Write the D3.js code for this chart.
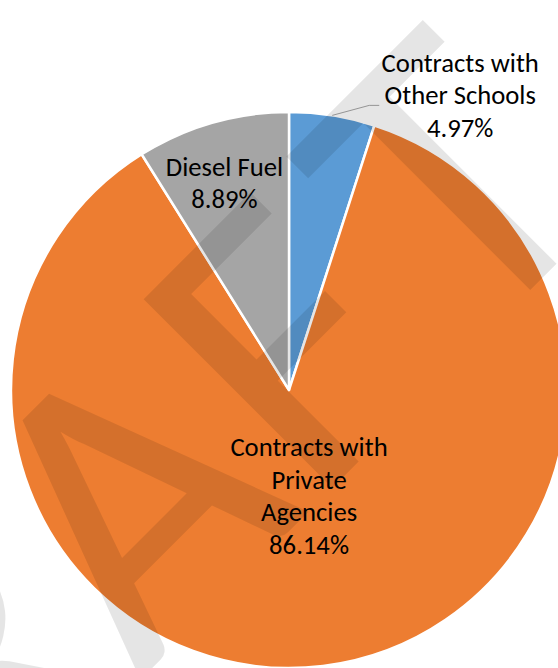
<!DOCTYPE html>
<html>
<head>
<meta charset="utf-8">
<script src="https://cdn.jsdelivr.net/npm/d3@7"></script>
<style>
  html, body { margin: 0; padding: 0; background: #fff; }
  svg { display: block; }
</style>
</head>
<body>
<svg id="chart"></svg>
<script>
// chart data
const categories = ["Contracts with Other Schools", "Contracts with Private Agencies", "Diesel Fuel"];
const labelLines = [["Contracts with", "Other Schools"], ["Contracts with", "Private", "Agencies"], ["Diesel Fuel"]];
const values = [4.97, 86.14, 8.89];
const colors = ["#5B9BD5", "#ED7D31", "#A5A5A5"];

const width = 558;
const height = 668;
const cx = 289;
const cy = 390;
const radius = 278;
const fontSize = 26.67;
const lineHeight = 32.5;
const fontFamily = "Calibri, Carlito, Lato, sans-serif";

// where each label sits: distance from centre along the slice's mid angle (outside = leader line)
const labelLayout = [
    { outside: true },
    { r: 106, dx: 7 },
    { r: 216, dx: -5 }
];

const svg = d3.select("#chart")
    .attr("width", width)
    .attr("height", height);

const g = svg.append("g")
    .attr("transform", `translate(${cx},${cy})`);

const pie = d3.pie().sort(null).value(d => d);
const arcs = pie(values);

const arc = d3.arc().innerRadius(0).outerRadius(radius);

g.selectAll("path.slice")
    .data(arcs)
    .join("path")
    .attr("class", "slice")
    .attr("d", arc)
    .attr("fill", (d, i) => colors[i])
    .attr("stroke", "#fff")
    .attr("stroke-width", 2.5)
    .attr("stroke-linejoin", "round");

// watermark, letters placed one by one along the diagonal
svg.append("text")
    .attr("transform", "rotate(-45)")
    .attr("x", "-865 -609 -383 -138 87")
    .attr("y", 580)
    .attr("font-family", fontFamily)
    .attr("font-size", 416)
    .attr("fill", "#000")
    .attr("fill-opacity", 0.1)
    .text("DRAFT");

const pct = d3.format(".2f");
const polar = (a, r) => [r * Math.sin(a), -r * Math.cos(a)];

arcs.forEach((d, i) => {
    const mid = (d.startAngle + d.endAngle) / 2;
    const lines = labelLines[i].concat([pct(values[i]) + "%"]);
    let lx, ly;
    if (labelLayout[i].outside) {
        const p0 = polar(mid, radius);
        const p1 = [p0[0] + 37, p0[1] - 10];
        const p2 = [p1[0] + 10, p1[1]];
        g.append("polyline")
            .attr("points", [p0, p1, p2].map(p => p.join(",")).join(" "))
            .attr("fill", "none")
            .attr("stroke", "#A6A6A6")
            .attr("stroke-width", 1);
        lx = p2[0] + 81;
        ly = p2[1] - 10.5;
    } else {
        const c = polar(mid, labelLayout[i].r);
        lx = c[0] + labelLayout[i].dx;
        ly = c[1];
    }
    const t = g.append("text")
        .attr("text-anchor", "middle")
        .attr("font-family", fontFamily)
        .attr("font-size", fontSize)
        .attr("fill", "#000");
    const first = ly - (lines.length - 1) / 2 * lineHeight + fontSize * 0.36;
    lines.forEach((s, j) => {
        t.append("tspan")
            .attr("x", lx)
            .attr("y", first + j * lineHeight)
            .text(s);
    });
});
</script>
</body>
</html>
